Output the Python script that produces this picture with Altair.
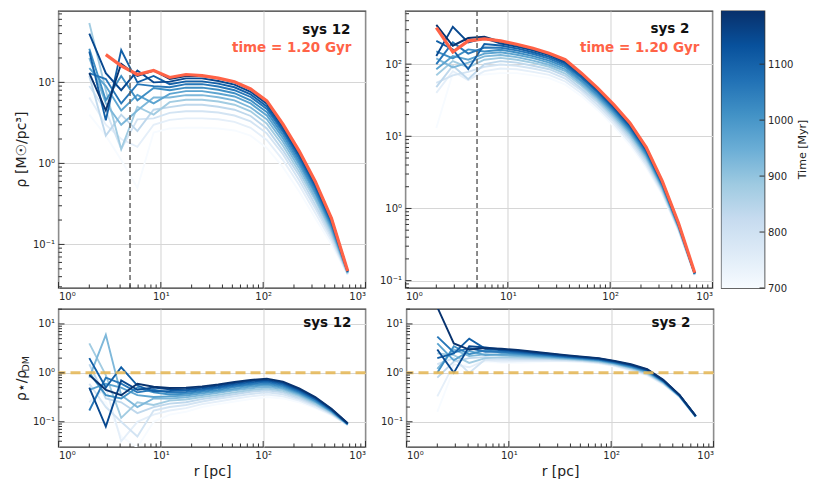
import altair as alt
import pandas as pd

# ---------------- data ----------------
R = [2.0, 2.9, 4.1, 5.9, 8.5, 12.2, 17.6, 25.3, 36.4, 52.4, 75.4, 108.5, 156, 225, 323, 465, 670]
TIMES = [700, 745, 790, 835, 880, 925, 970, 1015, 1060, 1105, 1150, 1190]

RHO_SYS12 = [
    [4.0, 2.2, 1.1, 0.5, 2.4, 2.7, 2.75, 2.75, 2.7, 2.55, 2.2, 1.55, 0.9, 0.45, 0.21, 0.10, 0.042],
    [6.5, 3.0, 2.0, 1.6, 3.0, 3.45, 3.6, 3.6, 3.5, 3.25, 2.75, 1.95, 1.1, 0.54, 0.245, 0.11, 0.0425],
    [9.0, 4.5, 1.5, 3.5, 3.6, 4.2, 4.4, 4.4, 4.25, 3.9, 3.3, 2.35, 1.3, 0.62, 0.28, 0.12, 0.043],
    [12, 2.2, 4.0, 2.5, 4.6, 4.95, 5.3, 5.3, 5.0, 4.6, 3.85, 2.7, 1.45, 0.71, 0.31, 0.13, 0.0435],
    [54, 8.0, 1.5, 5.0, 4.0, 5.7, 6.1, 6.1, 5.8, 5.3, 4.4, 3.1, 1.65, 0.79, 0.35, 0.14, 0.044],
    [20, 5.5, 3.0, 4.5, 6.5, 6.5, 6.95, 6.95, 6.55, 6.0, 4.9, 3.5, 1.85, 0.88, 0.38, 0.15, 0.0445],
    [15, 9.0, 4.5, 7.0, 5.5, 7.2, 7.8, 7.8, 7.3, 6.7, 5.5, 3.9, 2.05, 0.97, 0.42, 0.16, 0.045],
    [26, 6.0, 12, 6.0, 8.5, 8.0, 8.6, 8.6, 8.1, 7.35, 6.0, 4.3, 2.25, 1.05, 0.45, 0.17, 0.0455],
    [13, 11, 5.5, 9.5, 9.0, 8.7, 9.5, 9.5, 8.9, 8.0, 6.6, 4.7, 2.45, 1.14, 0.49, 0.18, 0.046],
    [24, 3.4, 25, 10, 12, 9.5, 10.3, 10.3, 9.65, 8.7, 7.1, 5.05, 2.6, 1.23, 0.52, 0.19, 0.0463],
    [40, 13, 8.0, 14, 10, 10.2, 11.2, 11.2, 10.4, 9.4, 7.65, 5.45, 2.8, 1.31, 0.56, 0.20, 0.0467],
    [13, 4.5, 17, 12, 14, 11.0, 12.0, 12.0, 11.2, 10.1, 8.2, 5.85, 3.0, 1.40, 0.59, 0.21, 0.047],
]
RHO_SYS12_FINAL = [None, 22, 16, 12.5, 14, 11.5, 12.5, 12.1, 11.3, 10.2, 8.3, 5.9, 3.05, 1.42, 0.60, 0.21, 0.047]

RHO_SYS2 = [
    [13, 75, 70, 72, 75, 75, 70, 64, 52, 36, 23, 13.7, 7.5, 3.65, 1.55, 0.49, 0.118],
    [40, 80, 60, 80, 87, 85, 78, 71, 57.5, 39.5, 25, 14.9, 8.2, 3.95, 1.62, 0.50, 0.119],
    [55, 70, 78, 92, 99, 95, 87, 78, 63, 43, 27, 16.1, 8.9, 4.25, 1.70, 0.51, 0.120],
    [48, 95, 62, 100, 110, 105, 95, 85, 69, 46, 29.5, 17.3, 9.6, 4.6, 1.77, 0.525, 0.121],
    [70, 110, 90, 115, 122, 115, 104, 92, 74, 50, 31.5, 18.5, 10.3, 4.9, 1.85, 0.54, 0.122],
    [120, 90, 105, 128, 134, 125, 112, 98, 80, 53, 33.5, 19.7, 11.0, 5.2, 1.92, 0.55, 0.123],
    [85, 130, 115, 140, 146, 135, 121, 105, 85, 57, 35.5, 21.0, 11.6, 5.5, 2.0, 0.56, 0.124],
    [150, 120, 160, 150, 158, 145, 129, 112, 91, 60, 37.5, 22.2, 12.3, 5.8, 2.07, 0.575, 0.125],
    [100, 200, 140, 170, 169, 155, 138, 119, 96, 64, 40, 23.4, 13.0, 6.1, 2.15, 0.585, 0.126],
    [210, 160, 85, 190, 181, 165, 146, 126, 102, 67, 42, 24.6, 13.7, 6.4, 2.22, 0.60, 0.126],
    [130, 330, 200, 230, 193, 175, 155, 133, 107, 71, 44, 25.8, 14.4, 6.7, 2.30, 0.61, 0.127],
    [350, 180, 230, 240, 205, 185, 163, 140, 113, 74, 46, 27, 15.1, 7.0, 2.37, 0.62, 0.128],
]
RHO_SYS2_FINAL = [320, 147, 210, 224, 210, 189, 166, 142, 115, 75, 46.5, 27.4, 15.3, 7.05, 2.39, 0.63, 0.129]

RATIO_SYS12 = [
    [0.3, 0.25, 0.05, 0.03, 0.10, 0.14, 0.16, 0.20, 0.23, 0.26, 0.29, 0.32, 0.30, 0.25, 0.19, 0.135, 0.085],
    [0.25, 0.5, 0.04, 0.10, 0.14, 0.17, 0.19, 0.23, 0.26, 0.295, 0.33, 0.36, 0.33, 0.27, 0.20, 0.14, 0.086],
    [0.6, 0.2, 0.10, 0.05, 0.17, 0.20, 0.22, 0.26, 0.295, 0.33, 0.37, 0.40, 0.365, 0.29, 0.215, 0.144, 0.0865],
    [1.5, 0.3, 0.25, 0.15, 0.20, 0.235, 0.25, 0.29, 0.325, 0.365, 0.41, 0.44, 0.40, 0.31, 0.225, 0.149, 0.087],
    [4.0, 0.9, 0.12, 0.25, 0.22, 0.27, 0.285, 0.32, 0.355, 0.40, 0.445, 0.48, 0.43, 0.335, 0.235, 0.153, 0.088],
    [0.8, 6.0, 0.35, 0.2, 0.3, 0.30, 0.315, 0.35, 0.39, 0.44, 0.485, 0.52, 0.465, 0.355, 0.25, 0.158, 0.0885],
    [0.45, 0.6, 0.5, 0.35, 0.32, 0.33, 0.345, 0.38, 0.42, 0.47, 0.525, 0.56, 0.495, 0.375, 0.26, 0.162, 0.089],
    [1.0, 0.35, 0.3, 0.5, 0.4, 0.36, 0.375, 0.41, 0.45, 0.51, 0.565, 0.60, 0.53, 0.395, 0.27, 0.167, 0.090],
    [0.17, 0.8, 0.6, 0.4, 0.45, 0.395, 0.405, 0.44, 0.485, 0.545, 0.60, 0.64, 0.56, 0.415, 0.285, 0.171, 0.0905],
    [2.0, 0.5, 1.3, 0.55, 0.42, 0.425, 0.44, 0.47, 0.515, 0.58, 0.64, 0.68, 0.595, 0.44, 0.295, 0.176, 0.091],
    [0.5, 0.08, 0.7, 0.45, 0.5, 0.46, 0.47, 0.50, 0.55, 0.615, 0.68, 0.72, 0.63, 0.46, 0.31, 0.18, 0.092],
    [0.9, 0.45, 0.35, 0.6, 0.52, 0.49, 0.50, 0.53, 0.58, 0.65, 0.72, 0.76, 0.66, 0.48, 0.32, 0.185, 0.093],
]

RATIO_SYS2 = [
    [0.16, 1.2, 1.6, 1.7, 1.6, 1.6, 1.65, 1.7, 1.7, 1.65, 1.55, 1.35, 1.1, 0.88, 0.58, 0.32, 0.125],
    [0.33, 1.5, 1.3, 1.8, 1.7, 1.72, 1.75, 1.77, 1.75, 1.7, 1.59, 1.39, 1.14, 0.91, 0.59, 0.323, 0.126],
    [1.5, 2.0, 1.0, 1.9, 1.85, 1.85, 1.84, 1.85, 1.81, 1.74, 1.63, 1.42, 1.17, 0.94, 0.605, 0.326, 0.126],
    [0.8, 1.7, 2.0, 2.1, 2.0, 1.97, 1.94, 1.92, 1.86, 1.79, 1.67, 1.46, 1.21, 0.96, 0.62, 0.33, 0.127],
    [2.5, 2.3, 1.6, 2.0, 2.1, 2.09, 2.03, 1.99, 1.92, 1.83, 1.71, 1.5, 1.25, 0.99, 0.63, 0.333, 0.127],
    [1.2, 3.0, 2.2, 2.4, 2.3, 2.21, 2.13, 2.06, 1.97, 1.88, 1.75, 1.54, 1.28, 1.02, 0.645, 0.336, 0.128],
    [4.0, 1.8, 2.8, 2.3, 2.4, 2.34, 2.22, 2.14, 2.03, 1.92, 1.8, 1.57, 1.32, 1.05, 0.655, 0.339, 0.129],
    [1.0, 3.5, 2.4, 2.9, 2.6, 2.46, 2.32, 2.21, 2.08, 1.97, 1.84, 1.61, 1.35, 1.08, 0.67, 0.342, 0.129],
    [5.5, 2.6, 3.2, 2.7, 2.7, 2.58, 2.41, 2.28, 2.14, 2.01, 1.88, 1.65, 1.39, 1.11, 0.68, 0.345, 0.130],
    [2.0, 2.5, 5.0, 3.1, 2.9, 2.7, 2.51, 2.35, 2.19, 2.06, 1.92, 1.68, 1.43, 1.13, 0.695, 0.349, 0.131],
    [3.0, 1.0, 3.5, 3.3, 3.0, 2.83, 2.6, 2.43, 2.25, 2.1, 1.96, 1.72, 1.46, 1.16, 0.705, 0.352, 0.131],
    [22, 4.0, 3.0, 3.2, 3.1, 2.95, 2.7, 2.5, 2.3, 2.15, 2.0, 1.76, 1.5, 1.19, 0.72, 0.355, 0.132],
]

R_SOFT = [5.0]
UNITY = [1.0]
CB_RANGE = [700, 1195]
CB_TICKS = [700, 800, 900, 1000, 1100]
BLUES = ["#f7fbff", "#deebf7", "#c6dbef", "#9ecae1", "#6baed6",
         "#4292c6", "#2171b5", "#08519c", "#08306b"]

# ---------------- styling ----------------
FONT = "DejaVu Sans"
W, HT, HB, CBW = 307, 277, 138, 43
TICK_COLOR = "#333333"
RED = "#ff6347"
YDOM_TL = [0.029, 76]
YDOM_TR = [0.079, 545]
YDOM_B = [0.0305, 20.2]

n_stops = len(BLUES)
color_domain = [CB_RANGE[0] + (CB_RANGE[1] - CB_RANGE[0]) * i / (n_stops - 1) for i in range(n_stops)]
COLOR_SCALE = alt.Scale(domain=color_domain, range=BLUES, interpolate="rgb")

SUP = {-2: "10⁻²", -1: "10⁻¹", 0: "10⁰", 1: "10¹", 2: "10²", 3: "10³"}
LABEL_EXPR = "''"
for k, s in SUP.items():
    LABEL_EXPR = f"round(log(datum.value)/LN10) == {k} ? '{s}' : ({LABEL_EXPR})"


def tick_vals(lo, hi, major):
    out = []
    for e in range(-3, 4):
        for m in range(1, 10):
            v = round(m * 10.0 ** e, 6)
            if lo <= v <= hi and ((m == 1) == major):
                out.append(v)
    return out


def long_df(rows):
    recs = []
    for t, vals in zip(TIMES, rows):
        for r, v in zip(R, vals):
            if v is not None:
                recs.append({"t": t, "r": r, "v": v})
    return pd.DataFrame(recs)


def one_row():
    return pd.DataFrame({"a": [0]})


def text_layer(txt, x, y, size=13.5, weight="bold", color="#111111", angle=0, align="right"):
    kw = dict(text=txt, font=FONT, fontSize=size, fontWeight=weight, color=color,
              align=align, baseline="alphabetic")
    if angle:
        kw["angle"] = angle
    return alt.Chart(one_row()).mark_text(**kw).encode(x=alt.value(x), y=alt.value(y))


def panel(rows, final, ydom, H, annotations, xtitle=False, vline=False, hline=False):
    xs = alt.Scale(type="log", domain=[1, 1000], nice=False)
    ys = alt.Scale(type="log", domain=ydom, nice=False)
    xaxis_kw = dict(values=tick_vals(1, 1000, True), labelExpr=LABEL_EXPR, grid=True,
                    ticks=False, domain=False, labelPadding=3, labelFontSize=10)
    if xtitle:
        xaxis_kw.update(title="r [pc]", titlePadding=4, titleFontSize=14)
    else:
        xaxis_kw["title"] = None
    xaxis = alt.Axis(**xaxis_kw)
    yaxis = alt.Axis(values=tick_vals(ydom[0], ydom[1], True), labelExpr=LABEL_EXPR, grid=True,
                     ticks=False, domain=False, labelPadding=4, labelFontSize=10, title=None)
    X = lambda: alt.X("r:Q", scale=xs, axis=xaxis)
    Y = lambda: alt.Y("v:Q", scale=ys, axis=yaxis)

    layers = []
    lines = alt.Chart(long_df(rows)).mark_line(clip=True, strokeWidth=1.9).encode(
        x=X(), y=Y(),
        color=alt.Color("t:Q", scale=COLOR_SCALE, legend=None),
        detail="t:N",
    )
    layers.append(lines)
    if final is not None:
        fdf = pd.DataFrame({"r": [r for r, v in zip(R, final) if v is not None],
                            "v": [v for v in final if v is not None]})
        layers.append(alt.Chart(fdf).mark_line(clip=True, strokeWidth=3.2, color=RED).encode(
            x=X(), y=Y()))
    if vline:
        layers.append(alt.Chart(pd.DataFrame({"r": R_SOFT})).mark_rule(
            color="#5a5a5a", strokeDash=[5, 3], strokeWidth=1.4).encode(x=X()))
    if hline:
        layers.append(alt.Chart(pd.DataFrame({"v": UNITY})).mark_rule(
            color="#e6b95a", strokeDash=[10, 5], strokeWidth=3, opacity=0.9).encode(y=Y()))

    # inward ticks (left and bottom)
    for vals, ln in ((tick_vals(1, 1000, True), 6), (tick_vals(1, 1000, False), 3.5)):
        layers.append(alt.Chart(pd.DataFrame({"r": vals})).mark_rule(color=TICK_COLOR, strokeWidth=1).encode(
            x=X(), y=alt.value(H), y2=alt.value(H - ln)))
    for vals, ln in ((tick_vals(ydom[0], ydom[1], True), 6), (tick_vals(ydom[0], ydom[1], False), 3.5)):
        layers.append(alt.Chart(pd.DataFrame({"v": vals})).mark_rule(color=TICK_COLOR, strokeWidth=1).encode(
            y=Y(), x=alt.value(0), x2=alt.value(ln)))

    layers.extend(annotations)
    return alt.layer(*layers).properties(width=W, height=H)


TL = panel(RHO_SYS12, RHO_SYS12_FINAL, YDOM_TL, HT, [
    text_layer("sys 12", W - 15, 22.8),
    text_layer("time = 1.20 Gyr", W - 14, 41.2, color=RED),
    text_layer("ρ [M☉/pc³]", -32.3, HT / 2, size=14, weight="normal", color="#222222", angle=270, align="center"),
], vline=True)

TR = panel(RHO_SYS2, RHO_SYS2_FINAL, YDOM_TR, HT, [
    text_layer("sys 2", W - 23, 22.3),
    text_layer("time = 1.20 Gyr", W - 13, 41, color=RED),
], vline=True)

BL = panel(RATIO_SYS12, None, YDOM_B, HB, [
    text_layer("sys 12", W - 14, 18.3),
    text_layer("ρ⋆/ρ", -32.3, 92, size=14, weight="normal", color="#222222", angle=270, align="left"),
    text_layer("DM", -29.3, 62.5, size=9.5, weight="normal", color="#222222", angle=270, align="left"),
], xtitle=True, hline=True)

BR = panel(RATIO_SYS2, None, YDOM_B, HB, [
    text_layer("sys 2", W - 23, 18.3),
], xtitle=True, hline=True)

# colorbar
cb_scale = alt.Scale(domain=CB_RANGE, nice=False, zero=False)
cb_axis = alt.Axis(orient="right", values=CB_TICKS, format="d", ticks=False, domain=False,
                   grid=False, labelPadding=3, labelFontSize=10, title=None)
grad = alt.LinearGradient(
    gradient="linear",
    stops=[alt.GradientStop(color=c, offset=i / (n_stops - 1)) for i, c in enumerate(BLUES)],
    x1=0, x2=0, y1=1, y2=0,
)
cb_rect = alt.Chart(pd.DataFrame({"lo": [CB_RANGE[0]], "hi": [CB_RANGE[1]]})).mark_rect(color=grad).encode(
    y=alt.Y("lo:Q", scale=cb_scale, axis=cb_axis),
    y2="hi:Q",
    x=alt.value(0), x2=alt.value(CBW),
)
cb_ticks = alt.Chart(pd.DataFrame({"lo": CB_TICKS})).mark_rule(color=TICK_COLOR, strokeWidth=1).encode(
    y=alt.Y("lo:Q", scale=cb_scale, axis=cb_axis), x=alt.value(CBW - 5), x2=alt.value(CBW))
cb_title = text_layer("Time [Myr]", 84.5, HT / 2, size=11, weight="normal", color="#222222",
                      angle=270, align="center")
CB = alt.layer(cb_rect, cb_ticks, cb_title).properties(width=CBW, height=HT)

S12, S23, SV = 11, 6, 6
top = alt.hconcat(alt.hconcat(TL, TR, spacing=S12), CB, spacing=S23)
bottom = alt.hconcat(BL, BR, spacing=S12)

chart = alt.vconcat(top, bottom, spacing=SV).properties(
    padding={"left": 5.5, "top": 1, "right": 5, "bottom": 5}
).configure_view(
    stroke="#333333", strokeWidth=1.4
).configure_axis(
    labelFont=FONT, titleFont=FONT, labelColor="#262626", titleColor="#222222",
    titleFontWeight="normal", gridColor="#d6d6d6", gridWidth=1.1,
)

chart.save("out.html", embed_options={"renderer": "svg", "actions": False})
